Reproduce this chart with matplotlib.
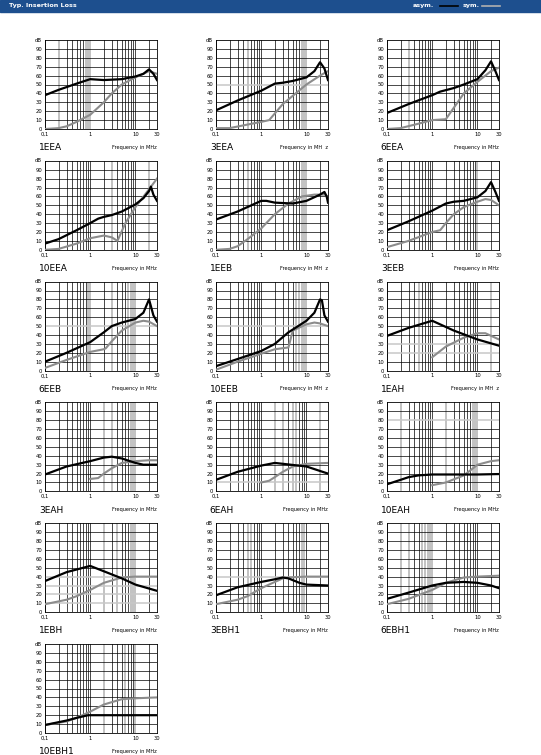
'''
insertion loss sheet
-----------------------------------------------------------
typ. insertion loss of the filter family, asym. and sym.
'''
# load packages -------------------------------------------
import matplotlib
matplotlib.use('Agg')
import matplotlib.pyplot as plt

# set data ------------------------------------------------
names = ['1EEA', '3EEA', '6EEA', '10EEA', '1EEB', '3EEB', '6EEB', '10EEB',
         '1EAH', '3EAH', '6EAH', '10EAH', '1EBH', '3EBH1', '6EBH1', '10EBH1']

# asym. curves (MHz, dB):
asym = {
    '1EEA': ([0.1, 0.2, 0.5, 1, 2, 5, 10, 15, 20, 25, 30],
             [38, 44, 51, 56, 55, 56, 59, 62, 67, 62, 55]),
    '3EEA': ([0.1, 0.3, 1, 2, 3, 5, 10, 15, 20, 25, 30],
             [21, 32, 43, 51, 52, 54, 58, 65, 75, 68, 55]),
    '6EEA': ([0.1, 0.3, 1, 1.5, 3, 5, 10, 15, 20, 25, 30],
             [18, 28, 38, 42, 46, 50, 56, 66, 76, 65, 55]),
    '10EEA': ([0.1, 0.2, 0.5, 1, 1.5, 2, 3, 5, 10, 15, 20, 22, 25, 30],
              [7, 12, 22, 30, 35, 37, 39, 43, 51, 58, 66, 71, 62, 55]),
    '1EEB': ([0.1, 0.3, 1, 1.3, 2, 5, 10, 20, 25, 28, 30],
             [34, 43, 55, 55, 53, 52, 55, 62, 65, 60, 53]),
    '3EEB': ([0.1, 0.3, 1, 2, 3, 5, 10, 15, 20, 25, 30],
             [22, 32, 44, 52, 54, 55, 59, 66, 76, 65, 55]),
    '6EEB': ([0.1, 0.3, 1, 2, 3, 5, 10, 15, 20, 25, 30],
             [10, 20, 32, 43, 50, 54, 58, 65, 80, 62, 55]),
    '10EEB': ([0.1, 0.3, 1, 2, 4, 10, 15, 20, 22, 25, 30],
              [5, 13, 22, 30, 43, 56, 65, 80, 79, 62, 55]),
    '1EAH': ([0.1, 0.3, 1, 3, 10, 30],
             [39, 48, 56, 45, 35, 28]),
    '3EAH': ([0.1, 0.3, 1, 2, 3, 5, 10, 15, 30],
             [19, 28, 34, 38, 39, 37, 32, 30, 30]),
    '6EAH': ([0.1, 0.3, 1, 2, 3, 10, 30],
             [13, 22, 29, 32, 31, 28, 20]),
    '10EAH': ([0.1, 0.2, 0.3, 0.5, 1, 10, 30],
              [8, 13, 16, 18, 19, 19, 19.5]),
    '1EBH': ([0.1, 0.3, 1, 2, 5, 10, 30],
             [35, 45, 52, 46, 38, 31, 24]),
    '3EBH1': ([0.1, 0.3, 1, 2, 3, 4, 7, 10, 30],
              [19, 28, 34, 37, 39, 38, 33, 31, 30]),
    '6EBH1': ([0.1, 0.3, 1, 2, 5, 10, 20, 30],
              [15, 22, 30, 33, 34, 33, 30, 27]),
    '10EBH1': ([0.1, 0.3, 0.5, 0.9, 1, 30],
               [9, 14, 17, 20, 20, 20]),
}

# sym. curves (MHz, dB):
sym = {
    '1EEA': ([0.1, 0.2, 0.3, 0.5, 1, 2, 3, 5, 10, 20, 30],
             [0, 1, 3, 8, 16, 30, 40, 50, 58, 65, 62]),
    '3EEA': ([0.1, 0.2, 0.5, 1, 1.5, 3, 10, 20, 30],
             [1, 1, 5, 8, 10, 28, 50, 60, 65]),
    '6EEA': ([0.1, 0.2, 0.5, 1, 2, 5, 10, 20, 30],
             [0, 1, 6, 10, 11, 40, 53, 65, 69]),
    '10EEA': ([0.1, 0.2, 0.5, 1, 2, 3, 4, 6, 10, 20, 30],
              [0, 1, 7, 13, 16, 14, 10, 30, 48, 68, 80]),
    '1EEB': ([0.1, 0.2, 0.3, 0.5, 1, 2, 4, 8, 15, 25, 30],
             [0, 1, 4, 12, 24, 40, 52, 60, 62, 62, 60]),
    '3EEB': ([0.1, 0.3, 1, 1.5, 2, 3, 5, 10, 15, 20, 30],
             [3, 10, 20, 22, 30, 40, 48, 54, 57, 56, 50]),
    '6EEB': ([0.1, 0.3, 1, 2, 2.2, 3, 5, 10, 15, 20, 30],
             [3, 12, 21, 24, 25, 33, 45, 54, 56, 55, 50]),
    '10EEB': ([0.1, 0.3, 1, 2, 4, 5, 10, 15, 20, 30],
              [1, 10, 19, 24, 26, 45, 52, 54, 53, 50]),
    '1EAH': ([1, 2, 5, 10, 15, 30],
             [15, 27, 37, 42, 42, 35]),
    '3EAH': ([1, 1.5, 2, 3, 5, 10, 20, 30],
             [14, 15, 20, 26, 32, 34, 35, 35]),
    '6EAH': ([1, 1.5, 2, 3, 5, 10, 30],
             [10, 12, 16, 22, 28, 31, 32]),
    '10EAH': ([1, 2, 5, 8, 10, 20, 30],
              [7, 10, 18, 26, 30, 34, 35]),
    '1EBH': ([0.1, 0.3, 0.5, 1, 2, 5, 10, 30],
             [9, 14, 18, 25, 33, 39, 40, 40]),
    '3EBH1': ([0.1, 0.3, 0.5, 1, 2, 3, 4, 10, 30],
              [9, 14, 18, 27, 34, 38, 39, 40, 40]),
    '6EBH1': ([0.1, 0.3, 1, 2, 5, 10, 30],
              [9, 15, 25, 33, 39, 40, 41]),
    '10EBH1': ([0.1, 0.3, 0.5, 1, 2, 5, 10, 30],
               [9, 13, 17, 24, 32, 38, 39, 40]),
}

# grey grid lines of the original sheet:
grey_v = {
    '1EEA': [0.2, 0.8, 0.9, 1], '3EEA': [0.5, 8, 9, 10], '6EEA': [0.3],
    '10EEA': [3, 20], '1EEB': [0.5, 8, 9, 10], '3EEB': [10],
    '6EEB': [0.9, 1, 3, 7, 8, 9, 10], '10EEB': [6, 7, 8, 9, 10],
    '1EAH': [0.5, 20], '3EAH': [2, 3, 8, 9, 10], '6EAH': [2, 3, 5, 6, 20],
    '10EAH': [0.2, 2, 8, 9, 10], '1EBH': [2, 4, 8, 9, 10],
    '3EBH1': [0.5, 0.6, 8, 9], '6EBH1': [0.2, 0.3, 0.6, 0.7, 0.8, 0.9, 1],
    '10EBH1': [2, 6, 10],
}
grey_h = {'3EEA': [50], '6EEB': [50], '10EEB': [50], '1EAH': [20, 30],
          '6EAH': [10], '10EAH': [80], '1EBH': [10, 20, 30, 40],
          '3EBH1': [40]}

xlabel_names = {'3EEA': 'Frequency in MH  z', '1EEB': 'Frequency in MH  z',
                '10EEB': 'Frequency in MH  z', '1EAH': 'Frequency in MH  z'}

y_ticks = [0, 10, 20, 30, 40, 50, 60, 70, 80, 90]
x_ticks = [0.1, 1, 10, 30]
x_ticklabels = ['0,1', '1', '10', '30']
grid_x = [0.1, 0.2, 0.3, 0.4, 0.5, 0.6, 0.7, 0.8, 0.9, 1, 2, 3, 4, 5, 6,
          7, 8, 9, 10, 20, 30]

# plot data -----------------------------------------------
W, H = 541, 755
fig = plt.figure(figsize=(W / 100, H / 100), dpi=100)

# header bar:
fig.patches.append(plt.Rectangle((0, 1 - 12 / H), 1, 12 / H,
                                 transform=fig.transFigure,
                                 color='#1d4f8e', zorder=0))
fig.text(9 / W, 1 - 6 / H, 'Typ. Insertion Loss', color='white',
         fontsize=4.6, fontweight='bold', va='center')
fig.text(413 / W, 1 - 6 / H, 'asym.', color='white', fontsize=4.6,
         fontweight='bold', va='center')
fig.text(463 / W, 1 - 6 / H, 'sym.', color='white', fontsize=4.6,
         fontweight='bold', va='center')
fig.lines.append(plt.Line2D([440 / W, 458 / W], [1 - 6 / H, 1 - 6 / H],
                            transform=fig.transFigure, color='black', lw=1.2))
fig.lines.append(plt.Line2D([482 / W, 500 / W], [1 - 6 / H, 1 - 6 / H],
                            transform=fig.transFigure, color='#b0b0b0',
                            lw=1.2))

for i, name in enumerate(names):
    row, col = divmod(i, 3)
    left = 45 + 171 * col
    top = 40 + 120.8 * row
    ax = fig.add_axes([left / W, 1 - (top + 89) / H, 112 / W, 89 / H])
    ax.set_xscale('log')
    ax.set_xlim(0.1, 30)
    ax.set_ylim(0, 100)

    # grid:
    for gx in grid_x:
        grey = gx in grey_v.get(name, [])
        ax.axvline(gx, color='#c2c2c2' if grey else 'black',
                   lw=1.4 if grey else 0.5, zorder=1)
    for gy in range(10, 100, 10):
        grey = gy in grey_h.get(name, [])
        ax.axhline(gy, color='#c8c8c8' if grey else 'black',
                   lw=1.1 if grey else 0.5, zorder=1)

    # curves:
    ax.plot(*sym[name], color='#8c8c8c', lw=1.5, zorder=3,
            solid_joinstyle='round')
    ax.plot(*asym[name], color='black', lw=1.6, zorder=4,
            solid_joinstyle='round')

    # axes style:
    for s in ax.spines.values():
        s.set_linewidth(0.6)
    ax.set_yticks(y_ticks)
    ax.set_yticklabels([str(t) for t in y_ticks])
    ax.set_xticks(x_ticks)
    ax.set_xticklabels(x_ticklabels)
    ax.minorticks_off()
    ax.tick_params(length=0, labelsize=3.8, pad=2)
    ax.text(-0.03, 1.0, 'dB', transform=ax.transAxes, ha='right',
            va='center', fontsize=3.8)

    # labels:
    ax.text(-0.055, -0.21, name, transform=ax.transAxes, ha='left',
            va='center', fontsize=6.5)
    ax.text(1.0, -0.205, xlabel_names.get(name, 'Frequency in MHz'),
            transform=ax.transAxes, ha='right', va='center', fontsize=3.6)

# save plot:
fig.savefig('out.png', dpi=100)

# finish routine ------------------------------------------
